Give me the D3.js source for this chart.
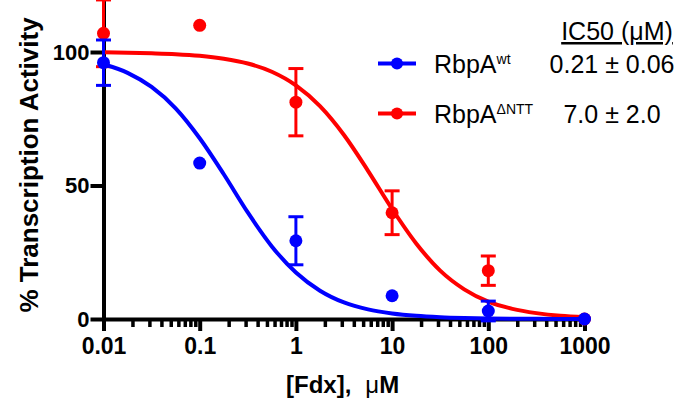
<!DOCTYPE html>
<html>
<head>
<meta charset="utf-8">
<script src="https://cdn.jsdelivr.net/npm/d3@7"></script>
<style>
  body { margin: 0; background: #fff; }
  svg { display: block; font-family: "Liberation Sans", Arial, sans-serif; }
</style>
</head>
<body>
<div id="chart"></div>
<script>
// Measured points (mean, sd) for each construct
const doses = [0.01, 0.1, 1, 10, 100, 1000];
const wtMean = [96, 58.4, 29.3, 8.7, 3, 0];
const wtSd = [8.5, 0, 9, 0, 3.7, 0];
const nttMean = [107, 110, 81.2, 39.8, 18.1, 0];
const nttSd = [12.5, 0, 12.6, 8.2, 5.5, 0];

// Fitted curves at quarter-decade steps
const curveX = [0.01, 0.0178, 0.0316, 0.0562, 0.1, 0.178, 0.316, 0.562, 1, 1.78, 3.16,
  5.62, 10, 17.8, 31.6, 56.2, 100, 178, 316, 562, 1000];
const wtCurve = [95.4, 92.2, 86.9, 78.9, 67.7, 54.2, 39.9, 27.2, 17.4, 10.6, 6.2,
  3.6, 2.1, 1.2, 0.7, 0.4, 0.2, 0.1, 0.07, 0.04, 0.02];
const nttCurve = [99.9, 99.7, 99.5, 99.2, 98.6, 97.5, 95.7, 92.6, 87.5, 79.7, 68.9,
  55.5, 41.2, 28.3, 18.1, 11.1, 6.5, 3.8, 2.2, 1.2, 0.7];

const xTicks = [0.01, 0.1, 1, 10, 100, 1000];
const yTicks = [0, 50, 100];
const legendNames = ["wt", "\u0394NTT"];
const legendIC50 = ["0.21 \u00b1 0.06", "7.0 \u00b1 2.0"];

const width = 680, height = 402;
const blue = "#0000ff", red = "#ff0000";

const svg = d3.select("#chart").append("svg")
  .attr("width", width)
  .attr("height", height);

const x = d3.scaleLog().domain([0.01, 1000]).range([103.5, 584.5]);
const y = d3.scaleLinear().domain([0, 120]).range([319, -1.4]);

// minor ticks on x
const minor = [];
for (let e = -2; e < 3; e++) {
  for (let m = 2; m <= 9; m++) minor.push(m * Math.pow(10, e));
}

const axes = svg.append("g");

axes.append("g")
  .attr("transform", `translate(0,${y(0)})`)
  .call(d3.axisBottom(x).tickValues(minor).tickSize(8).tickFormat(""))
  .call(g => g.select(".domain").remove())
  .call(g => g.selectAll(".tick line").attr("stroke", "#000").attr("stroke-width", 3.5));

const xAxis = axes.append("g")
  .attr("transform", `translate(0,${y(0)})`)
  .call(d3.axisBottom(x).tickValues(xTicks).tickSize(12).tickSizeOuter(0).tickPadding(7)
    .tickFormat(d => String(d)));
xAxis.select(".domain").attr("stroke", "#000").attr("stroke-width", 4);
xAxis.selectAll(".tick line").attr("stroke", "#000").attr("stroke-width", 4);
xAxis.selectAll(".tick text")
  .attr("fill", "#000")
  .style("font-size", "23px")
  .style("font-weight", "bold")
  .style("font-family", "'Liberation Sans', Arial, sans-serif");

const yAxis = axes.append("g")
  .attr("transform", `translate(${x(0.01)},0)`)
  .call(d3.axisLeft(y).tickValues(yTicks).tickSize(13).tickSizeOuter(0).tickPadding(1));
yAxis.select(".domain").attr("stroke", "#000").attr("stroke-width", 4);
yAxis.selectAll(".tick line").attr("stroke", "#000").attr("stroke-width", 4);
yAxis.selectAll(".tick text")
  .attr("fill", "#000")
  .style("font-size", "22px")
  .style("font-weight", "bold")
  .style("font-family", "'Liberation Sans', Arial, sans-serif");

// axis titles
svg.append("text")
  .attr("transform", "translate(38,165) rotate(-90)")
  .attr("text-anchor", "middle")
  .style("font-size", "26px")
  .style("font-weight", "bold")
  .text("% Transcription Activity");

const xt = svg.append("text")
  .attr("x", 286)
  .attr("y", 393)
  .style("font-size", "24px");
xt.append("tspan").style("font-weight", "bold").text("[Fdx],");
xt.append("tspan").attr("dx", 14).text("\u03bc");
xt.append("tspan").style("font-weight", "bold").text("M");

// data series
const line = d3.line()
  .x(d => x(d[0]))
  .y(d => y(d[1]))
  .curve(d3.curveMonotoneX);

const series = [
  { color: red, curve: nttCurve, mean: nttMean, sd: nttSd },
  { color: blue, curve: wtCurve, mean: wtMean, sd: wtSd }
];

series.forEach(s => {
  const g = svg.append("g");
  g.append("path")
    .datum(curveX.map((cx, i) => [cx, s.curve[i]]))
    .attr("fill", "none")
    .attr("stroke", s.color)
    .attr("stroke-width", 4)
    .attr("d", line);

  const pts = doses.map((d, i) => ({ d: d, m: s.mean[i], e: s.sd[i] }));
  const err = g.selectAll(".err")
    .data(pts.filter(p => p.e > 0))
    .enter().append("g")
    .attr("stroke", s.color)
    .attr("stroke-width", 3);
  err.append("line")
    .attr("x1", p => x(p.d)).attr("x2", p => x(p.d))
    .attr("y1", p => y(p.m - p.e)).attr("y2", p => y(p.m + p.e));
  err.append("line")
    .attr("x1", p => x(p.d) - 7.5).attr("x2", p => x(p.d) + 7.5)
    .attr("y1", p => y(p.m + p.e)).attr("y2", p => y(p.m + p.e));
  err.append("line")
    .attr("x1", p => x(p.d) - 7.5).attr("x2", p => x(p.d) + 7.5)
    .attr("y1", p => y(p.m - p.e)).attr("y2", p => y(p.m - p.e));

  g.selectAll("circle")
    .data(pts)
    .enter().append("circle")
    .attr("cx", p => x(p.d))
    .attr("cy", p => y(p.m))
    .attr("r", 6.5)
    .attr("fill", s.color);
});

// legend
const legend = svg.append("g").style("font-size", "25px");
legend.append("text")
  .attr("x", 617)
  .attr("y", 40)
  .attr("text-anchor", "middle")
  .style("text-decoration", "underline")
  .text("IC50 (\u03bcM)");

const rows = [
  { color: blue, name: legendNames[0], ic: legendIC50[0], cy: 63.5 },
  { color: red, name: legendNames[1], ic: legendIC50[1], cy: 113.5 }
];
rows.forEach(r => {
  legend.append("line")
    .attr("x1", 378).attr("x2", 416)
    .attr("y1", r.cy).attr("y2", r.cy)
    .attr("stroke", r.color)
    .attr("stroke-width", 4);
  legend.append("circle")
    .attr("cx", 397).attr("cy", r.cy).attr("r", 6)
    .attr("fill", r.color);
  const t = legend.append("text")
    .attr("x", 434)
    .attr("y", r.cy + 9);
  t.append("tspan").text("RbpA");
  t.append("tspan").attr("dy", -9).style("font-size", "14px").text(r.name);
  legend.append("text")
    .attr("x", 612)
    .attr("y", r.cy + 9)
    .attr("text-anchor", "middle")
    .text(r.ic);
});
</script>
</body>
</html>
